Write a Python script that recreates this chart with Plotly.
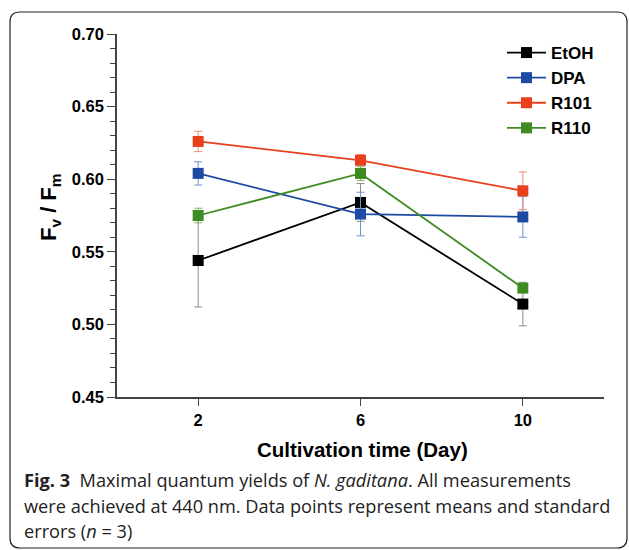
import plotly.graph_objects as go

days = [2, 6, 10]
series_names = ["EtOH", "DPA", "R101", "R110"]
etoh = [0.544, 0.584, 0.514]
etoh_err = [0.032, 0.013, 0.015]
dpa = [0.604, 0.576, 0.574]
dpa_err = [0.008, 0.015, 0.014]
r101 = [0.626, 0.613, 0.592]
r101_err = [0.007, 0.004, 0.013]
r110 = [0.575, 0.604, 0.525]
r110_err = [0.005, 0.005, 0.003]

values = [etoh, dpa, r101, r110]
errors = [etoh_err, dpa_err, r101_err, r110_err]
colors = ["#000000", "#1E4AA3", "#E8401C", "#3E8B23"]
err_colors = ["#8a8a8a", "#6f8fcf", "#f08a70", "#82b866"]

W, H = 629, 550
L, R, T, B = 117, 25, 34, 153
pw, ph = W - L - R, H - T - B

def px(x):
    return (x - L) / pw

def py(y):
    return (H - B - y) / ph

fig = go.Figure()
for name, v, e, c, ec in zip(series_names, values, errors, colors, err_colors):
    fig.add_trace(go.Scatter(
        x=days, y=v, name=name, mode="lines+markers",
        line=dict(color=c, width=1.8),
        marker=dict(symbol="square", size=11, color=c),
        error_y=dict(type="data", array=e, visible=True, color=ec, thickness=1, width=4),
    ))

font_axis = "Liberation Sans, Arial, sans-serif"

fig.update_layout(
    width=W, height=H,
    margin=dict(l=L, r=R, t=T, b=B),
    paper_bgcolor="white", plot_bgcolor="white",
    showlegend=True,
    legend=dict(x=px(502), y=py(35), xanchor="left", yanchor="top",
                font=dict(family=font_axis, size=17, color="black", weight="bold"),
                bgcolor="rgba(0,0,0,0)", tracegroupgap=0, itemwidth=39),
    xaxis=dict(range=[0, 12], tickvals=days, ticktext=[str(d) for d in days],
               showline=True, linecolor="#444", linewidth=1.5, showgrid=False, zeroline=False,
               ticks="outside", ticklen=7, tickcolor="#444",
               tickfont=dict(family=font_axis, size=16.5, color="black", weight="bold")),
    yaxis=dict(range=[0.45, 0.70], dtick=0.05, tickformat=".2f",
               showline=True, linecolor="#444", linewidth=1.5, showgrid=False, zeroline=False,
               ticks="outside", ticklen=8, tickcolor="#444",
               minor=dict(dtick=0.01, ticks="outside", ticklen=5, tickcolor="#444"),
               tickfont=dict(family=font_axis, size=16.5, color="black", weight="bold")),
)

# axis titles
fig.add_annotation(text="<b>Cultivation time (Day)</b>", x=px(362), y=py(449), xref="paper", yref="paper",
                   showarrow=False, xanchor="center", yanchor="middle",
                   font=dict(family=font_axis, size=20.5, color="black"))
fig.add_annotation(text="<b>F<sub>v</sub> / F<sub>m</sub></b>", x=px(50), y=py(208), xref="paper", yref="paper",
                   showarrow=False, xanchor="center", yanchor="middle", textangle=-90,
                   font=dict(family=font_axis, size=22, color="black"))

# caption
cap_font = dict(family="Open Sans, sans-serif", size=18.2, color="#222")
caption_lines = [
    "<b>Fig. 3</b>  Maximal quantum yields of <i>N. gaditana</i>. All measurements",
    "were achieved at 440 nm. Data points represent means and standard",
    "errors (<i>n</i> = 3)",
]
for line, yy in zip(caption_lines, [480, 506, 531]):
    fig.add_annotation(text=line, x=px(22), y=py(yy), xref="paper", yref="paper",
                       showarrow=False, xanchor="left", yanchor="middle", font=cap_font)

# rounded frame
x0, x1, y0, y1 = px(10), px(627), py(548), py(12)
rx, ry = 10 / pw, 10 / ph
path = (f"M {x0+rx},{y1} L {x1-rx},{y1} Q {x1},{y1} {x1},{y1-ry} "
        f"L {x1},{y0+ry} Q {x1},{y0} {x1-rx},{y0} L {x0+rx},{y0} Q {x0},{y0} {x0},{y0+ry} "
        f"L {x0},{y1-ry} Q {x0},{y1} {x0+rx},{y1} Z")
fig.add_shape(type="path", path=path, xref="paper", yref="paper",
              line=dict(color="#222", width=1.2), fillcolor="rgba(0,0,0,0)", layer="below")

fig.write_html("out.html", config={"displayModeBar": False},
               post_script="document.body.style.margin='0';document.body.style.overflow='hidden';")
